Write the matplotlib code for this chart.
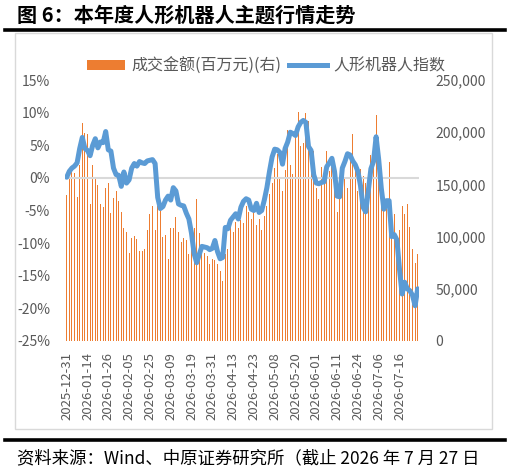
import numpy as np
import matplotlib
matplotlib.use("Agg")
from matplotlib import pyplot as plt
from matplotlib.ticker import FuncFormatter, MultipleLocator
from matplotlib.lines import Line2D
from matplotlib.patches import Patch, Rectangle

plt.rcParams['font.family'] = ['Noto Sans CJK SC', 'DejaVu Sans']
plt.rcParams['axes.unicode_minus'] = False

# 成交金额 (百万元), one bar per trading day, 2025-12-31 .. 2026-07-27
turnover = [
    140000, 156000, 163000, 161000, 138000, 169000, 209000, 199000, 198000, 131000,
    169000, 155000, 149000, 131000, 128000, 147000, 151000, 123000, 137000, 144000,
    134000, 124000, 108000, 104000, 84000, 99000, 101000, 98000, 86000, 86000,
    88000, 106000, 122000, 129000, 106000, 129000, 125000, 100000, 102000, 79000,
    108000, 108000, 119000, 104000, 95000, 99000, 97000, 83000, 88000, 108000,
    136000, 103000, 83000, 84000, 81000, 74000, 79000, 78000, 74000, 67000,
    57000, 83000, 88000, 116000, 104000, 114000, 108000, 116000, 113000, 129000,
    124000, 117000, 124000, 111000, 117000, 106000, 120000, 129000, 141000, 151000,
    166000, 179000, 155000, 144000, 164000, 202000, 169000, 160000, 198000, 219000,
    187000, 190000, 218000, 211000, 184000, 182000, 147000, 136000, 167000, 151000,
    182000, 163000, 174000, 153000, 124000, 141000, 151000, 155000, 147000, 173000,
    198000, 163000, 144000, 165000, 158000, 151000, 154000, 178000, 168000, 216000,
    160000, 141000, 128000, 127000, 171000, 103000, 122000, 102000, 106000, 129000,
    122000, 131000, 109000, 88000, 75000, 83000,
]

# 人形机器人指数 年初至今涨跌幅 (%)
index_pct = [
    0.1, 1.0, 1.5, 1.8, 2.3, 4.5, 6.2, 4.5, 4.2, 3.4,
    5.0, 6.0, 4.6, 5.5, 5.4, 7.1, 4.3, 4.1, 1.5, 0.5,
    0.4, -1.3, 0.9, -0.8, -0.3, 1.5, 2.2, 1.8, 2.5, 2.3,
    2.2, 2.6, 2.7, 2.8, 2.2, -3.0, -4.7, -4.4, -3.4, -2.8,
    -3.4, -1.5, -2.0, -4.0, -4.2, -4.3, -5.4, -6.3, -8.5, -11.6,
    -13.0, -11.7, -10.5, -10.6, -10.7, -11.0, -10.8, -9.6, -11.3, -12.4,
    -12.2, -7.6, -7.8, -6.5, -6.0, -5.5, -6.3, -4.5, -3.6, -3.2,
    -3.4, -4.8, -5.0, -3.9, -5.3, -5.0, -3.4, -1.5, 1.0, 3.2,
    4.4, 4.3, 3.9, 2.1, 4.5, 5.5, 7.0, 6.8, 6.5, 7.8,
    8.5, 8.8, 8.5, 4.8, 4.2, 0.5, -0.8, -0.9, -0.7, -0.6,
    1.7, 2.3, 3.0, 1.0, -2.8, -2.9, 1.5, 2.5, 3.7, 3.5,
    2.6, 2.0, 1.0, -1.2, -4.5, -5.2, -2.0, 1.4, 2.5, 6.3,
    2.8, -1.6, -4.8, -3.5, -3.5, -9.0, -8.7, -9.5, -14.0, -17.8,
    -16.0, -17.0, -17.3, -18.0, -19.6, -17.0,
]

tick_labels = [
    "2025-12-31", "2026-01-14", "2026-01-26", "2026-02-05", "2026-02-25",
    "2026-03-09", "2026-03-19", "2026-03-31", "2026-04-13", "2026-04-23",
    "2026-05-08", "2026-05-20", "2026-06-01", "2026-06-11", "2026-06-24",
    "2026-07-06", "2026-07-16",
]
TICK_STEP = 8

orange = "#ED7D31"
blue = "#5B9BD5"
gray_txt = "#595959"

fig = plt.figure(figsize=(5.10, 4.71), dpi=100)

# frame around chart
fig.patches.append(Rectangle((15 / 510, 1 - 429 / 471), 477 / 510, 396 / 471,
                             transform=fig.transFigure, fill=False,
                             edgecolor="#D9D9D9", linewidth=1.0))
fig.add_artist(Line2D([5 / 510, 505 / 510], [1 - 30 / 471] * 2, color="black", linewidth=2.6))
fig.add_artist(Line2D([5 / 510, 505 / 510], [1 - 440 / 471] * 2, color="black", linewidth=2.6))
fig.text(17 / 510, 1 - 15 / 471, "图 6：本年度人形机器人主题行情走势", fontsize=14.5,
         fontweight="bold", va="center", ha="left")
fig.text(17 / 510, 1 - 458 / 471, "资料来源：Wind、中原证券研究所（截止 2026 年 7 月 27 日",
         fontsize=12.5, va="center", ha="left")

ax = fig.add_axes([65.4 / 510, 1 - 341 / 471, (419 - 65.4) / 510, 261 / 471])
ax2 = ax.twinx()
ax.set_zorder(ax2.get_zorder() + 1)
ax.patch.set_visible(False)

x = np.arange(len(turnover))
ax2.bar(x, turnover, width=0.45, color=orange, linewidth=0)
ax.axhline(0, color="#D9D9D9", linewidth=1.5, zorder=1)
ax.plot(x, index_pct, color=blue, linewidth=3.6, solid_capstyle="round",
        solid_joinstyle="round", zorder=3)

ax.set_xlim(-0.5, len(turnover) - 0.5)
ax.set_ylim(-25, 15)
ax.yaxis.set_major_locator(MultipleLocator(5))
ax.yaxis.set_major_formatter(FuncFormatter(lambda v, p: f"{v:.0f}%"))
ax2.set_ylim(0, 250000)
ax2.yaxis.set_major_locator(MultipleLocator(50000))
ax2.yaxis.set_major_formatter(FuncFormatter(lambda v, p: f"{v:,.0f}"))

ax.set_xticks(np.arange(0, len(turnover), TICK_STEP)[:len(tick_labels)])
ax.set_xticklabels(tick_labels, rotation=90, fontsize=9.5, color=gray_txt)

for a in (ax, ax2):
    for s in a.spines.values():
        s.set_visible(False)
ax.tick_params(axis="both", length=0, labelsize=10, labelcolor=gray_txt)
ax.tick_params(axis="y", pad=11)
ax.tick_params(axis="x", pad=8, labelsize=9.5)
ax2.tick_params(axis="y", length=0, labelsize=10, labelcolor=gray_txt, pad=12)

handles = [Patch(facecolor=orange, edgecolor="none"),
           Line2D([0], [0], color=blue, linewidth=3.6)]
fig.legend(handles, ["成交金额(百万元)(右)", "人形机器人指数"], loc="center",
           bbox_to_anchor=(266 / 510, 1 - 66 / 471), ncol=2, frameon=False,
           fontsize=11.5, labelcolor=gray_txt, handlelength=2.4,
           handletextpad=0.4, columnspacing=0.45, borderpad=0, handleheight=0.55)

fig.savefig("out.png", dpi=100)
